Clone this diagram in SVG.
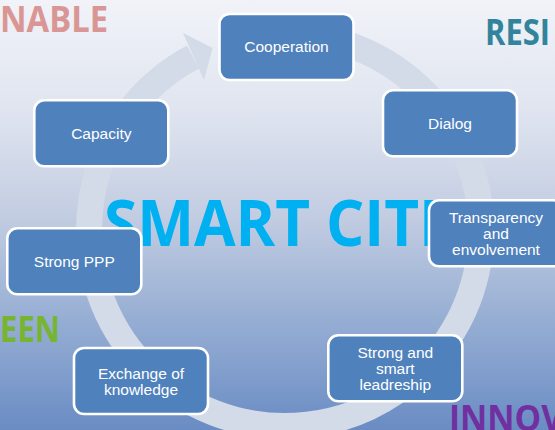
<svg xmlns="http://www.w3.org/2000/svg" width="555" height="430" viewBox="0 0 555 430">
<defs>
<linearGradient id="bg" x1="0" y1="0" x2="0" y2="1">
<stop offset="0" stop-color="#F1F3F8"/>
<stop offset="0.25" stop-color="#E0E5F0"/>
<stop offset="0.5" stop-color="#C3CDE2"/>
<stop offset="0.75" stop-color="#95ADD3"/>
<stop offset="1" stop-color="#6A8CC4"/>
</linearGradient>
<style>
.box{fill:#4F81BD;stroke:#FFFFFF;stroke-width:2.6}
.lbl{font-family:"Liberation Sans",Arial,sans-serif;font-size:15.5px;fill:#FFFFFF;text-anchor:middle}
.big{font-family:"Open Sans","Liberation Sans",sans-serif;font-weight:bold}
.ring{fill:none;stroke:#D3DAE8;stroke-width:26}
</style>
</defs>
<rect x="0" y="0" width="555" height="430" fill="url(#bg)"/>
<text class="big" x="0" y="32" font-size="36" fill="#D99694" textLength="108" lengthAdjust="spacingAndGlyphs">NABLE</text>
<text class="big" x="485" y="45" font-size="36" fill="#31849B" textLength="65" lengthAdjust="spacingAndGlyphs">RESI</text>
<text class="big" x="0" y="342" font-size="36" fill="#77B530" textLength="60" lengthAdjust="spacingAndGlyphs">EEN</text>
<text class="big" x="449" y="431" font-size="36" fill="#7030A0" textLength="114" lengthAdjust="spacingAndGlyphs">INNOV</text>
<g id="connectors">
<path class="ring" d="M335.7,40.7 A196,196 0 1 1 193,57"/>
<polygon points="183,33 212.5,48 204,80" fill="#D3DAE8"/>
</g>
<text class="big" x="104" y="246" font-size="64" fill="#00B0F0" textLength="402" lengthAdjust="spacingAndGlyphs">SMART CITIES</text>
<g id="n-cooperation"><rect class="box" x="219.5" y="14" width="134" height="66" rx="10"/><text class="lbl" x="286.5" y="52">Cooperation</text></g>
<g id="n-dialog"><rect class="box" x="383" y="90.3" width="134" height="66" rx="10"/><text class="lbl" x="450" y="128.8">Dialog</text></g>
<g id="n-capacity"><rect class="box" x="34.3" y="100.3" width="134" height="66" rx="10"/><text class="lbl" x="101.3" y="138.8">Capacity</text></g>
<g id="n-strongppp"><rect class="box" x="7.3" y="228.3" width="134" height="66" rx="10"/><text class="lbl" x="74.3" y="266.8">Strong PPP</text></g>
<g id="n-transparency"><rect class="box" x="429" y="200.3" width="134" height="66" rx="10"/><text class="lbl" x="496" y="223.3">Transparency<tspan x="496" dy="16">and</tspan><tspan x="496" dy="16">envolvement</tspan></text></g>
<g id="n-exchange"><rect class="box" x="74" y="348" width="134" height="66" rx="10"/><text class="lbl" x="141" y="378.5">Exchange of<tspan x="141" dy="16">knowledge</tspan></text></g>
<g id="n-leadership"><rect class="box" x="328.3" y="335.3" width="134" height="66" rx="10"/><text class="lbl" x="395.3" y="357.5">Strong and<tspan x="395.3" dy="16">smart</tspan><tspan x="395.3" dy="16">leadreship</tspan></text></g>
</svg>
